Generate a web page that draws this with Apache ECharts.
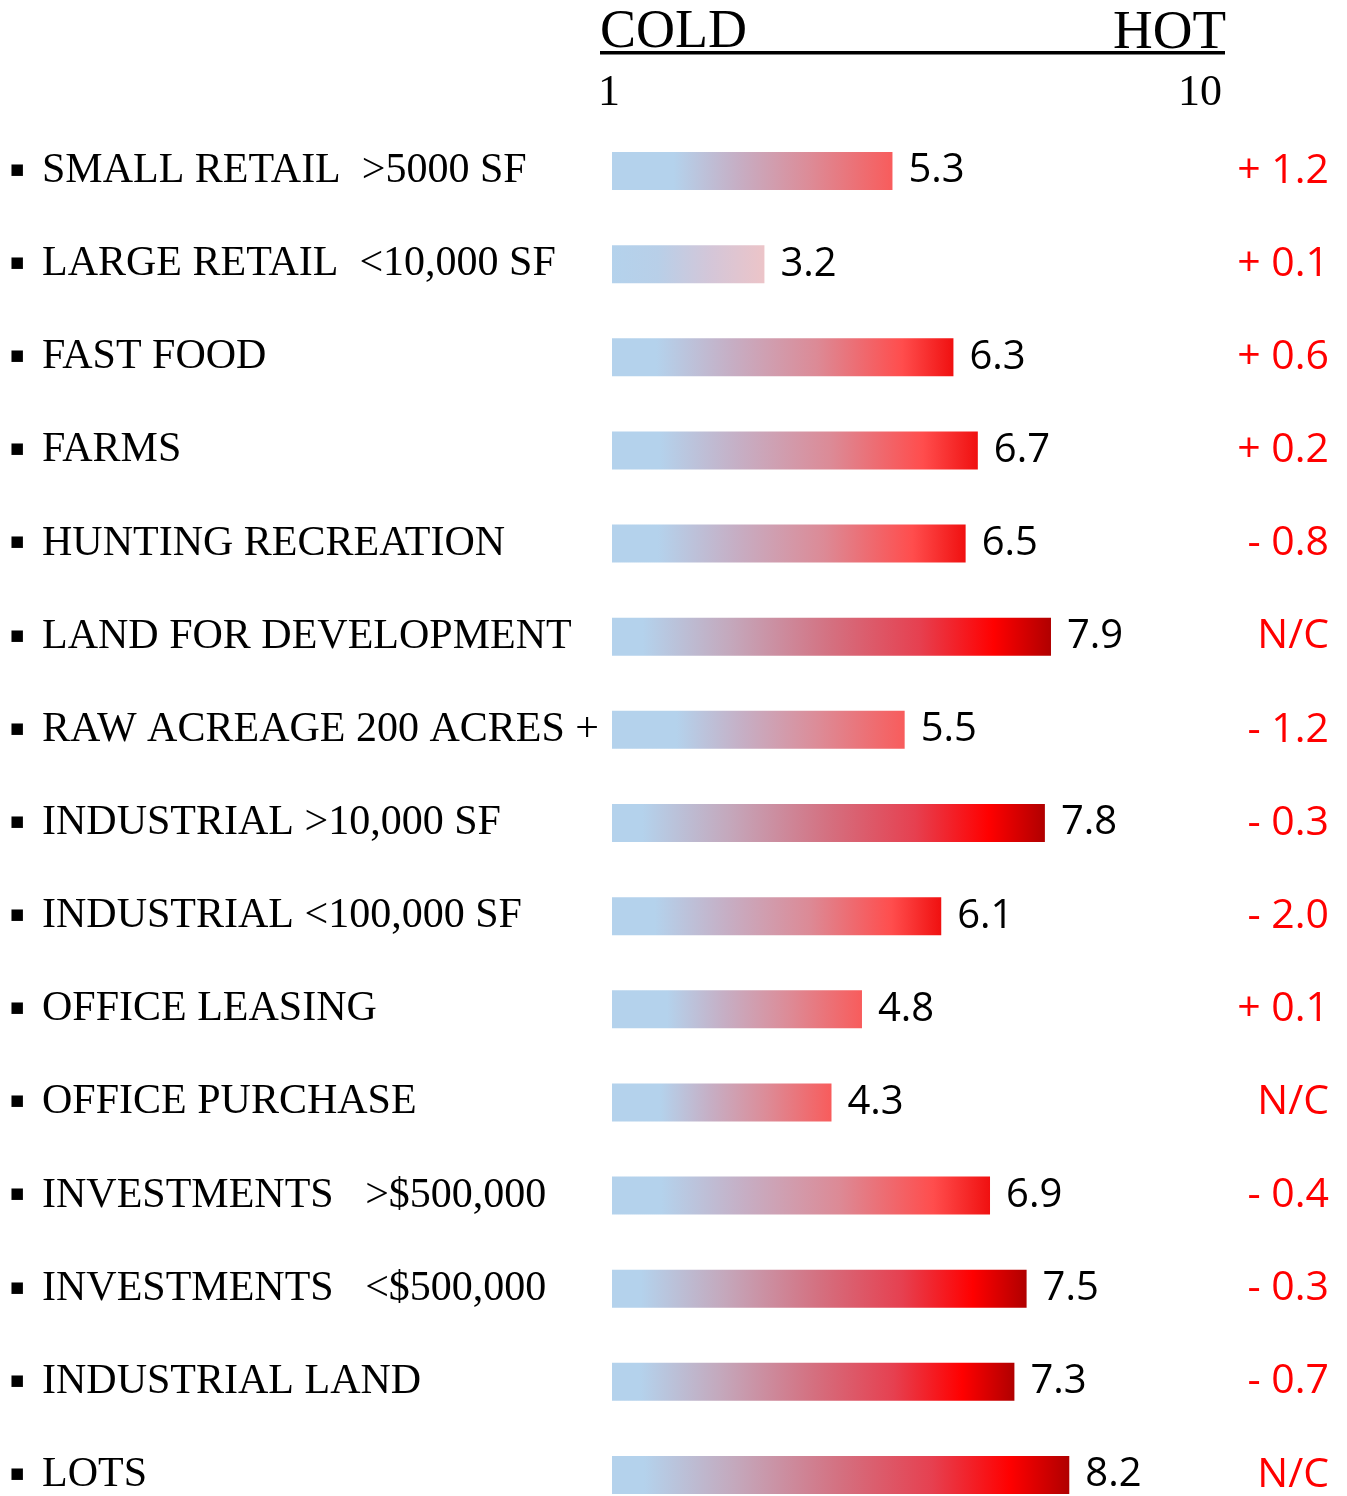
<!DOCTYPE html>
<html>
<head>
<meta charset="utf-8">
<script src="https://cdn.jsdelivr.net/npm/echarts@6/dist/echarts.min.js"></script>
<style>
html,body{margin:0;padding:0;background:#fff;}
#chart{width:1347px;height:1496px;}
</style>
</head>
<body>
<div id="chart"></div>
<script>
// ---- data ----
var categories = [
  'SMALL RETAIL  >5000 SF',
  'LARGE RETAIL  <10,000 SF',
  'FAST FOOD',
  'FARMS',
  'HUNTING RECREATION',
  'LAND FOR DEVELOPMENT',
  'RAW ACREAGE 200 ACRES +',
  'INDUSTRIAL >10,000 SF',
  'INDUSTRIAL <100,000 SF',
  'OFFICE LEASING',
  'OFFICE PURCHASE',
  'INVESTMENTS   >$500,000',
  'INVESTMENTS   <$500,000',
  'INDUSTRIAL LAND',
  'LOTS'
];
var scores = [5.3, 3.2, 6.3, 6.7, 6.5, 7.9, 5.5, 7.8, 6.1, 4.8, 4.3, 6.9, 7.5, 7.3, 8.2];
var changes = ['+ 1.2', '+ 0.1', '+ 0.6', '+ 0.2', '- 0.8', 'N/C', '- 1.2', '- 0.3', '- 2.0', '+ 0.1', 'N/C', '- 0.4', '- 0.3', '- 0.7', 'N/C'];
var scaleTicks = [1, 10];
var scaleEnds = ['COLD', 'HOT'];

// ---- styling helpers ----
var BLUE = '#b4d2ec';
function gradientFor(v) {
  var stops;
  if (v < 4) {
    stops = [[0, BLUE], [0.3, '#b8cfe8'], [0.65, '#d4c6d8'], [1, '#ecc4c8']];
  } else if (v < 6) {
    stops = [[0, BLUE], [0.22, BLUE], [0.45, '#c6aec4'], [0.7, '#dc8c98'], [1, '#f85c5c']];
  } else if (v < 7) {
    stops = [[0, BLUE], [0.13, BLUE], [0.35, '#c6aec4'], [0.6, '#dc8a96'], [0.85, '#ff4d4d'], [1, '#f01010']];
  } else {
    stops = [[0, BLUE], [0.07, BLUE], [0.27, '#c4a8bc'], [0.5, '#d47080'], [0.7, '#e64050'], [0.87, '#ff0000'], [1, '#b00000']];
  }
  return new echarts.graphic.LinearGradient(0, 0, 1, 0, stops.map(function (s) {
    return { offset: s[0], color: s[1] };
  }));
}

var barData = scores.map(function (v) {
  return { value: v, itemStyle: { color: gradientFor(v) } };
});

var chart = echarts.init(document.getElementById('chart'), null, { renderer: 'canvas' });
var serif = '"Liberation Serif", "Times New Roman", serif';
var sans = '"Open Sans", "Liberation Sans", sans-serif';

chart.setOption({
  backgroundColor: '#ffffff',
  animation: false,
  grid: [
    { left: 612, right: 107, top: 124.5, height: 1397, containLabel: false, outerBoundsMode: 'none' },
    { left: 609, width: 591, top: 70, height: 1, containLabel: false, outerBoundsMode: 'none' }
  ],
  xAxis: [
    { gridIndex: 0, type: 'value', min: 0.7, max: 11, show: false },
    {
      gridIndex: 1, type: 'value', min: scaleTicks[0], max: scaleTicks[1], interval: 9,
      position: 'bottom',
      axisLine: { show: false }, axisTick: { show: false }, splitLine: { show: false },
      axisLabel: { margin: 0, fontFamily: serif, fontSize: 44, color: '#000', showMinLabel: true, showMaxLabel: true }
    }
  ],
  yAxis: [
    {
      gridIndex: 0, type: 'category', data: categories, inverse: true,
      axisLine: { show: false }, axisTick: { show: false }, splitLine: { show: false },
      axisLabel: {
        interval: 0, align: 'left', margin: 602,
        formatter: function (v) { return '{b|■}{t|' + v + '}'; },
        rich: {
          b: { fontFamily: '"DejaVu Sans", sans-serif', fontSize: 15, width: 32, color: '#000', padding: [0, 0, 2, 0] },
          t: { fontFamily: serif, fontSize: 42, color: '#000' }
        }
      }
    },
    {
      gridIndex: 0, type: 'category', data: changes, inverse: true, position: 'right',
      axisLine: { show: false }, axisTick: { show: false }, splitLine: { show: false },
      axisLabel: { interval: 0, align: 'right', margin: 89, fontFamily: sans, fontSize: 41, color: '#ff0000' }
    },
    { gridIndex: 1, type: 'value', show: false }
  ],
  series: [
    {
      type: 'bar', xAxisIndex: 0, yAxisIndex: 0,
      data: barData, barWidth: 38,
      label: {
        show: true, position: 'right', distance: 16,
        fontFamily: sans, fontSize: 40, color: '#000',
        formatter: function (p) { return p.value.toFixed(1); }
      }
    }
  ],
  graphic: [
    { type: 'text', left: 600, top: 6, style: { text: scaleEnds[0], font: '54px ' + serif, fill: '#000' } },
    { type: 'text', right: 1347 - 1226, top: 6, style: { text: scaleEnds[1], font: '55px ' + serif, fill: '#000' } },
    { type: 'rect', shape: { x: 600, y: 51, width: 625, height: 3.5 }, style: { fill: '#000' } }
  ]
});
</script>
</body>
</html>
